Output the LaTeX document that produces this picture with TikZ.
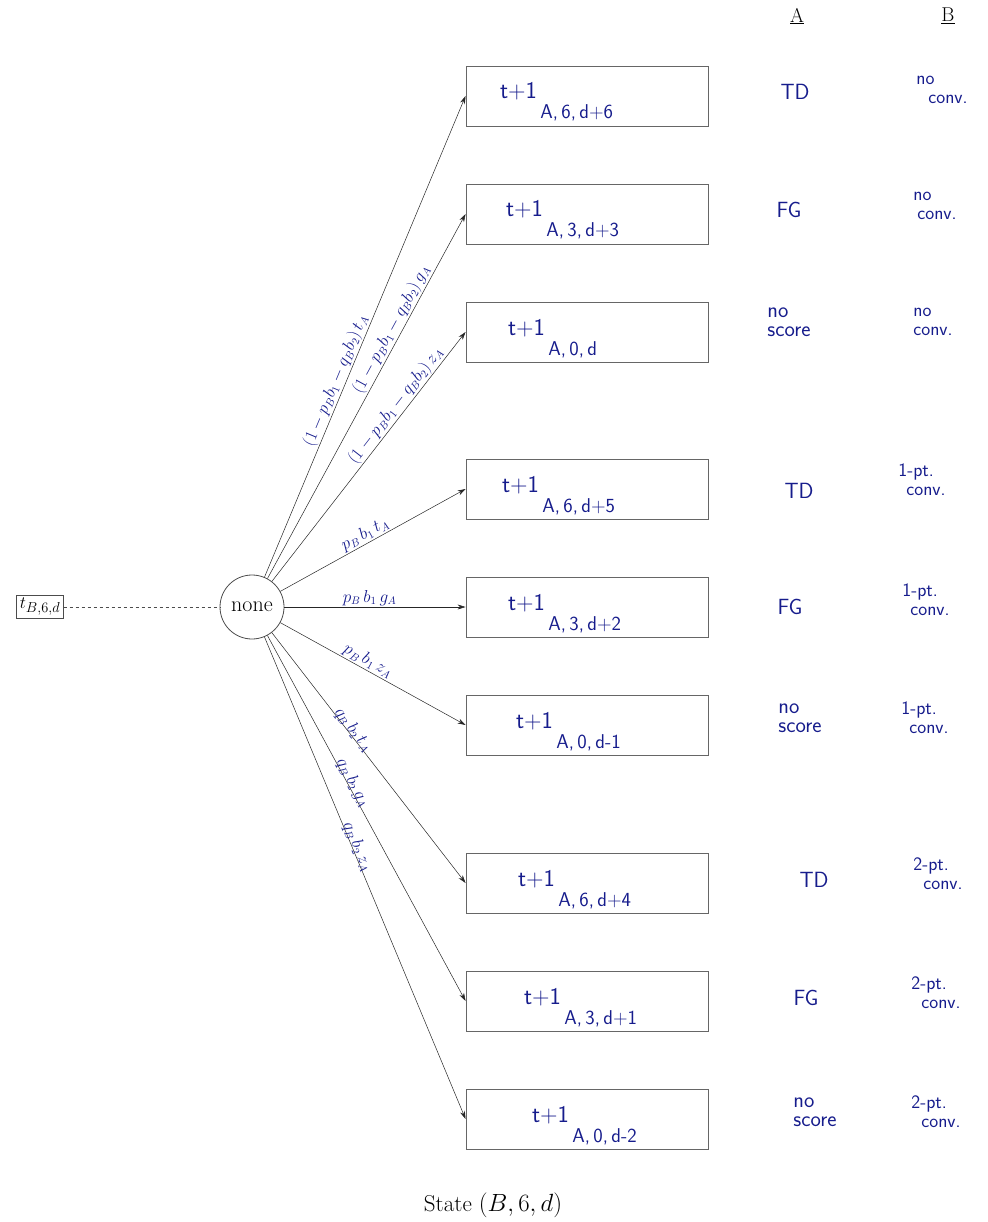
\documentclass[tikz,border=0pt]{standalone}
\usepackage{fontspec}
\usetikzlibrary{arrows.meta}
\definecolor{hand}{RGB}{22,28,140}
\newcommand\boxtxt[2]{\hspace*{#1}\raisebox{-3pt}[0pt][0pt]{\color{hand}\sffamily\fontsize{24}{26}\selectfont t+1\raisebox{-20pt}{\fontsize{20}{22}\selectfont\,#2}}}
\begin{document}
\begin{tikzpicture}[x=1pt,y=-1pt,
 box/.style={draw=black!60, line width=0.9pt, minimum width=242pt, minimum height=60pt, text width=242pt, align=left, inner sep=0pt},
 edge/.style={-{Stealth[length=8pt,width=5pt]}, line width=0.5pt, black!85},
 elab/.style={sloped, above, inner sep=1pt, text=hand, font=\fontsize{16}{17}\selectfont},
 hwa/.style={text=hand, font=\sffamily\fontsize{22}{19}\selectfont, align=left, inner sep=0pt},
 hwb/.style={text=hand, font=\sffamily\fontsize{19}{19}\selectfont, align=left, inner sep=0pt},
 hdr/.style={font=\fontsize{20}{22}\selectfont}]
\useasboundingbox (0,0) rectangle (987,1222);
\node[draw=black!70, line width=0.8pt, inner sep=3pt, font=\fontsize{19}{22}\selectfont] (src) at (40,607) {$t_{B,6,d}$};
\node[circle, draw=black!70, line width=0.8pt, minimum size=64pt, inner sep=0pt, font=\fontsize{22}{26}\selectfont] (none) at (252,607) {none};
\draw[dashed, black!70, line width=0.8pt] (src) -- (none);

\node[box] (b1) at (587,96)   {\boxtxt{34pt}{A, 6, d+6}};
\node[box] (b2) at (587,214)  {\boxtxt{40pt}{A, 3, d+3}};
\node[box] (b3) at (587,332)  {\boxtxt{42pt}{A, 0, d}};
\node[box] (b4) at (587,489)  {\boxtxt{36pt}{A, 6, d+5}};
\node[box] (b5) at (587,607)  {\boxtxt{42pt}{A, 3, d+2}};
\node[box] (b6) at (587,725)  {\boxtxt{50pt}{A, 0, d-1}};
\node[box] (b7) at (587,883)  {\boxtxt{52pt}{A, 6, d+4}};
\node[box] (b8) at (587,1001) {\boxtxt{58pt}{A, 3, d+1}};
\node[box] (b9) at (587,1119) {\boxtxt{66pt}{A, 0, d-2}};

\draw[edge] (none) -- node[elab, pos=0.40] {$(1-p_B b_1-q_B b_2)\,t_A$} (b1.west);
\draw[edge] (none) -- node[elab, pos=0.67] {$(1-p_B b_1-q_B b_2)\,g_A$} (b2.west);
\draw[edge] (none) -- node[elab, pos=0.68] {$(1-p_B b_1-q_B b_2)\,z_A$} (b3.west);
\draw[edge] (none) -- node[elab, pos=0.48] {$p_B\,b_1\,t_A$} (b4.west);
\draw[edge] (none) -- node[elab, pos=0.47] {$p_B\,b_1\,g_A$} (b5.west);
\draw[edge] (none) -- node[elab, pos=0.45] {$p_B\,b_1\,z_A$} (b6.west);
\draw[edge] (none) -- node[elab, pos=0.40, above=-4pt] {$q_B\,b_2\,t_A$} (b7.west);
\draw[edge] (none) -- node[elab, pos=0.41, above=-4pt] {$q_B\,b_2\,g_A$} (b8.west);
\draw[edge] (none) -- node[elab, pos=0.44, above=-4pt] {$q_B\,b_2\,z_A$} (b9.west);

\node[hdr] (ha) at (797,16) {\underline{A}};
\node[hdr] (hb) at (948,16) {\underline{B}};

\node[hwa] (a1) at (795,92)  {TD};
\node[hwa] (a2) at (789,210) {FG};
\node[hwa] (a3) at (789,322) {no\\score};
\node[hwa] (a4) at (799,491) {TD};
\node[hwa] (a5) at (790,607) {FG};
\node[hwa] (a6) at (800,718) {no\\score};
\node[hwa] (a7) at (814,880) {TD};
\node[hwa] (a8) at (806,998) {FG};
\node[hwa] (a9) at (815,1112) {no\\score};

\node[hwb] (c1) at (942,90)   {no\\\hspace*{12pt}conv.};
\node[hwb] (c2) at (935,206)  {no\\\hspace*{4pt}conv.};
\node[hwb] (c3) at (933,322)  {no\\conv.};
\node[hwb] (c4) at (922,480)  {1-pt.\\\hspace*{8pt}conv.};
\node[hwb] (c5) at (926,600)  {1-pt.\\\hspace*{8pt}conv.};
\node[hwb] (c6) at (925,718)  {1-pt.\\\hspace*{8pt}conv.};
\node[hwb] (c7) at (938,874)  {2-pt.\\\hspace*{10pt}conv.};
\node[hwb] (c8) at (936,993)  {2-pt.\\\hspace*{10pt}conv.};
\node[hwb] (c9) at (936,1112) {2-pt.\\\hspace*{10pt}conv.};

\node[font=\fontsize{23}{26}\selectfont] (cap) at (493,1205) {State $(B,6,d)$};
\end{tikzpicture}
\end{document}
